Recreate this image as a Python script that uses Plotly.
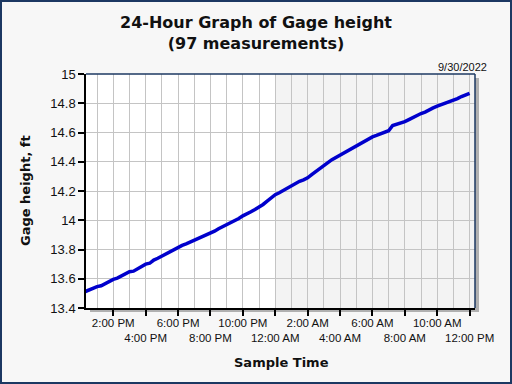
import plotly.graph_objects as go
import pandas as pd

# ---- data ----
start_time = "2022-09-29 12:00"
interval = "15min"
gage_height = [
    13.500, 13.512, 13.522, 13.535, 13.546, 13.552, 13.568, 13.582,
    13.596, 13.604, 13.620, 13.630, 13.648, 13.652, 13.668, 13.684,
    13.700, 13.706, 13.728, 13.740, 13.755, 13.770, 13.786, 13.800,
    13.815, 13.828, 13.838, 13.850, 13.865, 13.878, 13.890, 13.898,
    13.910, 13.925, 13.942, 13.956, 13.970, 13.980, 13.996, 14.012,
    14.030, 14.042, 14.058, 14.074, 14.090, 14.108, 14.130, 14.152,
    14.175, 14.188, 14.204, 14.220, 14.234, 14.252, 14.266, 14.276,
    14.290, 14.312, 14.334, 14.356, 14.378, 14.394, 14.414, 14.430,
    14.446, 14.462, 14.478, 14.492, 14.508, 14.526, 14.544, 14.558,
    14.570, 14.580, 14.590, 14.604, 14.612, 14.648, 14.656, 14.664,
    14.674, 14.688, 14.704, 14.716, 14.730, 14.740, 14.756, 14.768,
    14.780, 14.790, 14.800, 14.808, 14.820, 14.832, 14.846, 14.856,
    14.868,
]
tick_times = [
    "2022-09-29 14:00", "2022-09-29 16:00", "2022-09-29 18:00",
    "2022-09-29 20:00", "2022-09-29 22:00", "2022-09-30 00:00",
    "2022-09-30 02:00", "2022-09-30 04:00", "2022-09-30 06:00",
    "2022-09-30 08:00", "2022-09-30 10:00", "2022-09-30 12:00",
]
tick_labels = [
    "2:00 PM", "4:00 PM", "6:00 PM", "8:00 PM", "10:00 PM", "12:00 AM",
    "2:00 AM", "4:00 AM", "6:00 AM", "8:00 AM", "10:00 AM", "12:00 PM",
]
y_ticks = [13.4, 13.6, 13.8, 14, 14.2, 14.4, 14.6, 14.8, 15]
y_tick_labels = ["13.4", "13.6", "13.8", "14", "14.2", "14.4", "14.6", "14.8", "15"]
x_range = ["2022-09-29 12:19", "2022-09-30 12:20"]
y_range = [13.4, 15]
night_start = "2022-09-30 00:00"
date_label = "9/30/2022"
title_text = "24-Hour Graph of Gage height<br>(97 measurements)"
x_title = "Sample Time"
y_title = "Gage height, ft"

times = pd.date_range(start=start_time, periods=len(gage_height), freq=interval)

# staggered tick labels (every other on a second row)
staggered = [t if i % 2 == 0 else "<br>" + t for i, t in enumerate(tick_labels)]

# ---- layout geometry (pixels) ----
W, H = 512, 384
L, R, T, B = 86, 37, 74, 76
pw, ph = W - L - R, H - T - B

def px_x(p):
    return (p - L) / pw

def px_y(p):
    return (H - B - p) / ph

fig = go.Figure()
fig.add_trace(go.Scatter(
    x=times, y=gage_height, mode="lines",
    line=dict(color="#0000CC", width=3.5),
    hoverinfo="skip", showlegend=False,
))

NAVY = "#1c3862"
shapes = [
    # shaded second day
    dict(type="rect", xref="x", yref="paper", x0=night_start, x1=x_range[1],
         y0=0, y1=1, fillcolor="#f3f3f3", line=dict(width=0), layer="below"),
    # shadow right strip
    dict(type="rect", xref="paper", yref="paper", x0=px_x(L + pw), x1=px_x(L + pw + 4),
         y0=px_y(T + ph + 4), y1=px_y(T + 4), fillcolor="#b0b0b0", line=dict(width=0), layer="below"),
    # shadow bottom strip
    dict(type="rect", xref="paper", yref="paper", x0=px_x(L + 4), x1=px_x(L + pw + 4),
         y0=px_y(T + ph + 4), y1=px_y(T + ph), fillcolor="#b0b0b0", line=dict(width=0), layer="below"),
    # top border (navy)
    dict(type="line", xref="paper", yref="paper", x0=0, x1=1, y0=1, y1=1,
         line=dict(color=NAVY, width=1.5)),
    # right border (navy)
    dict(type="line", xref="paper", yref="paper", x0=1, x1=1, y0=0, y1=1,
         line=dict(color=NAVY, width=1.5)),
    # outer frame
    dict(type="rect", xref="paper", yref="paper", x0=px_x(1), x1=px_x(W - 1),
         y0=px_y(H - 1), y1=px_y(1), line=dict(color=NAVY, width=2),
         fillcolor="rgba(0,0,0,0)"),
]

bold = dict(family="DejaVu Sans", color="#111111", weight="bold")

fig.update_layout(
    width=W, height=H,
    margin=dict(l=L, r=R, t=T, b=B, pad=0, autoexpand=False),
    paper_bgcolor="#f7f7f7",
    plot_bgcolor="#ffffff",
    shapes=shapes,
    annotations=[
        dict(text=title_text, xref="paper", yref="paper", x=px_x(256), y=px_y(33),
             xanchor="center", yanchor="middle", showarrow=False,
             font=dict(size=16, **bold)),
        dict(text=date_label, xref="paper", yref="paper", x=px_x(489), y=px_y(75),
             xanchor="right", yanchor="bottom", showarrow=False,
             font=dict(family="Liberation Sans", size=11, color="#111111")),
        dict(text=x_title, xref="paper", yref="paper", x=px_x(281), y=px_y(362),
             xanchor="center", yanchor="middle", showarrow=False,
             font=dict(size=13, **bold)),
        dict(text=y_title, xref="paper", yref="paper", x=px_x(25), y=px_y(191),
             xanchor="center", yanchor="middle", showarrow=False, textangle=-90,
             font=dict(size=13, **bold)),
    ],
    showlegend=False,
)

fig.update_xaxes(
    type="date", range=x_range, automargin=False,
    tickmode="array", tickvals=tick_times, ticktext=staggered, tickangle=0,
    ticks="outside", ticklen=6, tickcolor="#000000", tickwidth=1.5,
    ticklabelstandoff=-3,
    showline=True, linecolor="#000000", linewidth=1.5,
    showgrid=True, gridcolor="#c4c4c4", gridwidth=1,
    minor=dict(dtick=3600000, tick0="2022-09-29 13:00", showgrid=True,
               gridcolor="#c4c4c4", gridwidth=1, ticks=""),
    tickfont=dict(family="Liberation Sans", size=11.5, color="#111111"),
    zeroline=False, fixedrange=True,
)
fig.update_yaxes(
    range=y_range, automargin=False,
    tickmode="array", tickvals=y_ticks, ticktext=y_tick_labels,
    ticks="outside", ticklen=6, tickcolor="#000000", tickwidth=1.5,
    showline=True, linecolor="#000000", linewidth=1.5,
    showgrid=True, gridcolor="#c4c4c4", gridwidth=1,
    tickfont=dict(family="Liberation Sans", size=13, color="#111111"),
    zeroline=False, fixedrange=True,
)

fig.write_html(
    "out.html",
    config={"displayModeBar": False},
    post_script="document.body.style.margin='0';document.body.style.overflow='hidden';",
)
